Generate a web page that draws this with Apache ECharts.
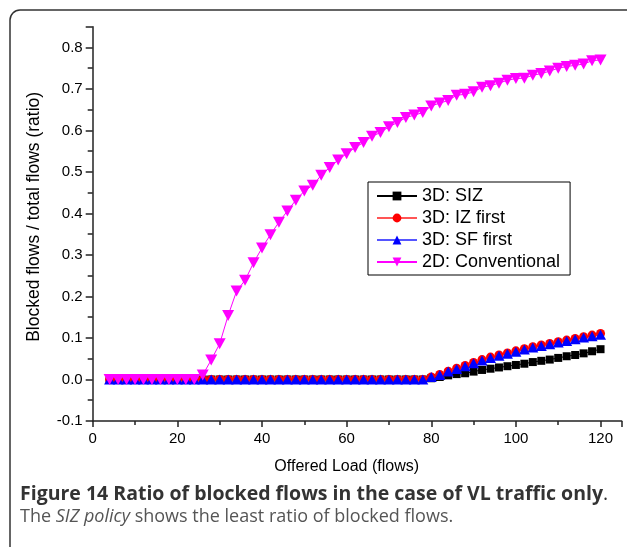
<!DOCTYPE html>
<html>
<head>
<meta charset="utf-8">
<script src="https://cdn.jsdelivr.net/npm/echarts@6/dist/echarts.min.js"></script>
<style>
html,body{margin:0;padding:0;background:#fff;}
#c{width:627px;height:547px;}
</style>
</head>
<body>
<div id="c"></div>
<script>
var loads = [4,6,8,10,12,14,16,18,20,22,24,26,28,30,32,34,36,38,40,42,44,46,48,50,52,54,56,58,60,62,64,66,68,70,72,74,76,78,80,82,84,86,88,90,92,94,96,98,100,102,104,106,108,110,112,114,116,118,120];

var siz = [0,0,0,0,0,0,0,0,0,0,0,0,0,0,0,0,0,0,0,0,0,0,0,0,0,0,0,0,0,0,0,0,0,0,0,0,0,0,
  0.003,0.006,0.010,0.013,0.015,0.019,0.023,0.026,0.029,0.032,0.035,0.038,0.042,0.045,0.048,0.052,0.056,0.059,0.063,0.068,0.073];
var izFirst = [0,0,0,0,0,0,0,0,0,0,0,0,0,0,0,0,0,0,0,0,0,0,0,0,0,0,0,0,0,0,0,0,0,0,0,0,0,0,
  0.006,0.012,0.020,0.027,0.034,0.041,0.048,0.054,0.059,0.064,0.069,0.074,0.079,0.083,0.087,0.091,0.095,0.099,0.103,0.107,0.111];
var sfFirst = [0,0,0,0,0,0,0,0,0,0,0,0,0,0,0,0,0,0,0,0,0,0,0,0,0,0,0,0,0,0,0,0,0,0,0,0,0,0,
  0.006,0.011,0.019,0.025,0.032,0.039,0.046,0.052,0.057,0.062,0.067,0.072,0.077,0.081,0.085,0.089,0.093,0.097,0.101,0.104,0.108];
var conventional = [0,0,0,0,0,0,0,0,0,0,0,0.011,0.047,0.086,0.154,0.213,0.239,0.281,0.317,0.349,0.379,0.406,0.432,0.454,0.468,0.492,0.511,0.529,0.544,0.559,0.571,0.586,0.595,0.609,0.619,0.631,0.637,0.643,0.659,0.666,0.672,0.685,0.687,0.693,0.704,0.708,0.714,0.721,0.725,0.726,0.733,0.737,0.743,0.750,0.754,0.757,0.760,0.768,0.770];

var seriesNames = ['3D: SIZ','3D: IZ first','3D: SF first','2D: Conventional'];
var xTicks = [0,20,40,60,80,100,120];
var yTicks = [-0.1,0.0,0.1,0.2,0.3,0.4,0.5,0.6,0.7,0.8];

function pairs(vals){ return loads.map(function(x,i){ return [x, vals[i]]; }); }

var chart = echarts.init(document.getElementById('c'), null, {renderer:'canvas'});
var font = 'Liberation Sans, Arial, sans-serif';
var axisCol = '#222';

chart.setOption({
  animation:false,
  backgroundColor:'#fff',
  grid:{left:92.7, right:5.3, top:26.7, bottom:126},
  legend:{
    orient:'vertical', left:368, top:182,
    data:seriesNames,
    borderColor:'#000', borderWidth:1, borderRadius:0,
    padding:[5,10,4,8],
    itemWidth:40, itemHeight:11, itemGap:4,
    textStyle:{fontFamily:font, fontSize:18, color:'#000', lineHeight:18}
  },
  xAxis:{
    type:'value', min:0, max:125, interval:20,
    name:'Offered Load (flows)', nameLocation:'middle', nameGap:38,
    nameTextStyle:{fontFamily:font, fontSize:16, color:'#000', padding:[0,21,0,0]},
    axisLine:{onZero:false, lineStyle:{color:axisCol, width:1.5}},
    axisTick:{show:true, inside:false, length:6, lineStyle:{color:axisCol, width:1.5}},
    minorTick:{show:true, splitNumber:2, length:4, lineStyle:{color:axisCol, width:1.5}},
    splitLine:{show:false},
    axisLabel:{fontFamily:font, fontSize:15, color:'#000', margin:10,
      formatter:function(v){ return xTicks.indexOf(v)>=0 ? String(v) : ''; }}
  },
  yAxis:{
    type:'value', min:-0.1, max:0.85, interval:0.1,
    name:'Blocked flows / total flows (ratio)', nameLocation:'middle', nameGap:50,
    nameTextStyle:{fontFamily:font, fontSize:17.5, color:'#000', padding:[0,0,0,14]},
    axisLine:{onZero:false, lineStyle:{color:axisCol, width:1.5}},
    axisTick:{show:true, inside:false, length:7, lineStyle:{color:axisCol, width:1.5}},
    minorTick:{show:true, splitNumber:2, length:5, lineStyle:{color:axisCol, width:1.5}},
    splitLine:{show:false},
    axisLabel:{fontFamily:font, fontSize:15, color:'#000', margin:10,
      formatter:function(v){
        var r = Math.round(v*10)/10;
        for (var i=0;i<yTicks.length;i++){ if (Math.abs(yTicks[i]-v)<1e-6) return r.toFixed(1); }
        return '';
      }}
  },
  series:[
    {name:seriesNames[0], type:'line', data:pairs(siz), symbol:'rect', symbolSize:8,
      itemStyle:{color:'#000'}, lineStyle:{color:'#000', width:1}},
    {name:seriesNames[1], type:'line', data:pairs(izFirst), symbol:'circle', symbolSize:9,
      itemStyle:{color:'#ff0000'}, lineStyle:{color:'#ff5555', width:1}},
    {name:seriesNames[2], type:'line', data:pairs(sfFirst), symbol:'triangle', symbolSize:[11,10],
      itemStyle:{color:'#0000ff'}, lineStyle:{color:'#5555ff', width:1}},
    {name:seriesNames[3], type:'line', data:pairs(conventional), symbol:'triangle', symbolRotate:180, symbolSize:[12,11],
      itemStyle:{color:'#ff00ff'}, lineStyle:{color:'#ff00ff', width:1}}
  ],
  graphic:[
    {type:'rect', silent:true, z:-1, shape:{x:10, y:10, width:640, height:560, r:10},
      style:{fill:null, stroke:'#333', lineWidth:1.5}},
    {type:'text', left:20, top:484, silent:true,
      style:{
        text:'{b|Figure 14 Ratio of blocked flows in the case of VL traffic only}{n|.}',
        rich:{
          b:{fontFamily:'Open Sans, sans-serif', fontWeight:'bold', fontSize:19.5, fill:'#333'},
          n:{fontFamily:'Open Sans, sans-serif', fontSize:19.5, fill:'#333'}
        }
      }},
    {type:'text', left:20, top:508, silent:true,
      style:{
        text:'{n|The }{i|SIZ policy}{n| shows the least ratio of blocked flows.}',
        rich:{
          n:{fontFamily:'Open Sans, sans-serif', fontSize:18, fill:'#555'},
          i:{fontFamily:'Open Sans, sans-serif', fontStyle:'italic', fontSize:18, fill:'#555'}
        }
      }}
  ]
});
</script>
</body>
</html>
